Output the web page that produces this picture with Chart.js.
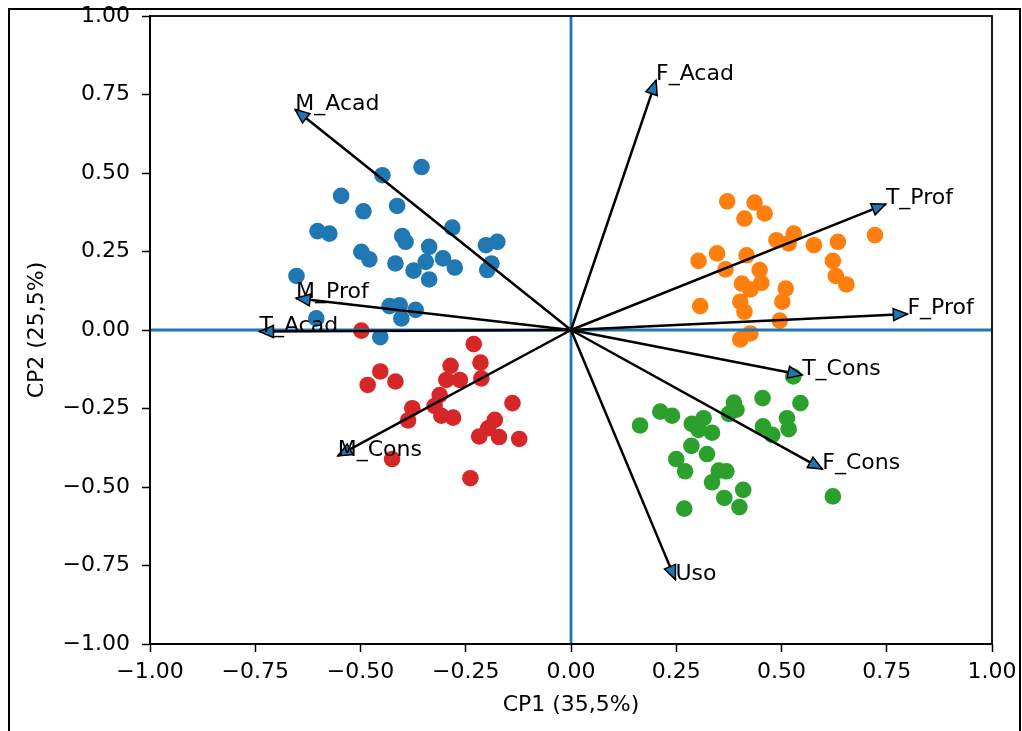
<!DOCTYPE html>
<html>
<head>
<meta charset="utf-8">
<script src="https://cdn.jsdelivr.net/npm/chart.js@4.4.1/dist/chart.umd.min.js"></script>
<style>
  html, body { margin: 0; padding: 0; background: #fff; }
  canvas { display: block; }
</style>
</head>
<body>
<canvas id="biplot" width="1022" height="731"></canvas>
<script>
// Scores of the individuals, one group per colour
const blueX = [-0.355, -0.448, -0.546, -0.493, -0.413, -0.602, -0.574, -0.401, -0.393, -0.282,
  -0.337, -0.202, -0.175, -0.498, -0.479, -0.417, -0.374, -0.345, -0.304, -0.276,
  -0.337, -0.189, -0.199, -0.652, -0.431, -0.407, -0.369, -0.403, -0.605, -0.453];
const blueY = [0.519, 0.493, 0.427, 0.378, 0.395, 0.315, 0.307, 0.299, 0.281, 0.326,
  0.265, 0.270, 0.281, 0.249, 0.225, 0.212, 0.189, 0.217, 0.228, 0.199,
  0.161, 0.212, 0.191, 0.172, 0.076, 0.079, 0.064, 0.037, 0.037, -0.023];

const orangeX = [0.371, 0.436, 0.460, 0.412, 0.488, 0.529, 0.517, 0.577, 0.634, 0.722,
  0.303, 0.347, 0.417, 0.367, 0.448, 0.622, 0.629, 0.654, 0.406, 0.426,
  0.452, 0.510, 0.502, 0.402, 0.412, 0.307, 0.496, 0.426, 0.402];
const orangeY = [0.410, 0.406, 0.371, 0.355, 0.286, 0.307, 0.276, 0.270, 0.281, 0.302,
  0.220, 0.244, 0.238, 0.193, 0.191, 0.220, 0.172, 0.145, 0.148, 0.129,
  0.150, 0.132, 0.090, 0.090, 0.058, 0.076, 0.030, -0.011, -0.030];

const greenX = [0.528, 0.545, 0.455, 0.387, 0.393, 0.375, 0.212, 0.240, 0.164, 0.287,
  0.315, 0.303, 0.335, 0.513, 0.517, 0.456, 0.478, 0.286, 0.323, 0.250,
  0.271, 0.351, 0.369, 0.335, 0.409, 0.364, 0.400, 0.269, 0.622];
const greenY = [-0.148, -0.233, -0.217, -0.231, -0.254, -0.267, -0.260, -0.273, -0.304, -0.299,
  -0.281, -0.318, -0.327, -0.281, -0.316, -0.307, -0.334, -0.369, -0.395, -0.411,
  -0.450, -0.448, -0.450, -0.485, -0.509, -0.535, -0.564, -0.569, -0.530];

const redX = [-0.498, -0.231, -0.286, -0.215, -0.453, -0.483, -0.417, -0.296, -0.264, -0.213,
  -0.312, -0.377, -0.387, -0.324, -0.308, -0.280, -0.139, -0.181, -0.197, -0.218,
  -0.171, -0.123, -0.425, -0.239];
const redY = [-0.002, -0.045, -0.114, -0.104, -0.132, -0.175, -0.164, -0.159, -0.159, -0.154,
  -0.207, -0.249, -0.288, -0.242, -0.273, -0.279, -0.233, -0.286, -0.313, -0.339,
  -0.341, -0.347, -0.411, -0.472];

// Loadings of the variables (arrows)
const varNames = ["M_Acad", "F_Acad", "T_Prof", "F_Prof", "M_Prof", "T_Acad", "T_Cons", "F_Cons", "M_Cons", "Uso"];
const varX = [-0.655, 0.202, 0.748, 0.799, -0.653, -0.740, 0.549, 0.597, -0.554, 0.248];
const varY = [0.702, 0.795, 0.401, 0.051, 0.101, -0.005, -0.143, -0.443, -0.401, -0.795];

const tickValues = [-1, -0.75, -0.5, -0.25, 0, 0.25, 0.5, 0.75, 1];
const xTitle = "CP1 (35,5%)";
const yTitle = "CP2 (25,5%)";

const FONT = "DejaVu Sans";
const BLUE = "#1f77b4";

function pts(xs, ys) {
  return xs.map((x, i) => ({ x: x, y: ys[i] }));
}

function fmtTick(v) {
  return v.toFixed(2).replace("-", "\u2212");
}

const scatterSets = [
  { data: pts(blueX, blueY), color: "#1f77b4" },
  { data: pts(orangeX, orangeY), color: "#ff7f0e" },
  { data: pts(greenX, greenY), color: "#2ca02c" },
  { data: pts(redX, redY), color: "#d62728" }
].map(g => ({
  data: g.data,
  backgroundColor: g.color,
  borderWidth: 0,
  pointRadius: 8.3,
  pointHoverRadius: 8.3,
  order: 3
}));

// horizontal and vertical reference lines through the origin
const zeroLines = [
  [{ x: -1, y: 0 }, { x: 1, y: 0 }],
  [{ x: 0, y: -1 }, { x: 0, y: 1 }]
].map(d => ({
  data: d,
  showLine: true,
  borderColor: BLUE,
  borderWidth: 2.8,
  pointRadius: 0,
  order: 2
}));

const arrowSets = varNames.map((n, i) => ({
  data: [{ x: 0, y: 0 }, { x: varX[i], y: varY[i] }],
  showLine: true,
  borderColor: "#000",
  borderWidth: 2.5,
  pointRadius: 0,
  order: 1
}));

// arrow heads, variable names, axes frame and the outer border
const biplotExtras = {
  id: "biplotExtras",
  afterDatasetsDraw(chart) {
    const ctx = chart.ctx;
    const xs = chart.scales.x, ys = chart.scales.y;
    const ox = xs.getPixelForValue(0), oy = ys.getPixelForValue(0);
    ctx.save();
    varNames.forEach((name, i) => {
      const tx = xs.getPixelForValue(varX[i]);
      const ty = ys.getPixelForValue(varY[i]);
      const len = Math.hypot(tx - ox, ty - oy);
      const ux = (tx - ox) / len, uy = (ty - oy) / len;
      const hl = 14, hw = 6;
      const bx = tx - ux * hl, by = ty - uy * hl;
      ctx.beginPath();
      ctx.moveTo(tx, ty);
      ctx.lineTo(bx - uy * hw, by + ux * hw);
      ctx.lineTo(bx + uy * hw, by - ux * hw);
      ctx.closePath();
      ctx.fillStyle = BLUE;
      ctx.fill();
      ctx.lineWidth = 1.5;
      ctx.strokeStyle = "#000";
      ctx.stroke();

      ctx.fillStyle = "#000";
      ctx.font = "22px '" + FONT + "'";
      ctx.textAlign = "left";
      ctx.textBaseline = "alphabetic";
      ctx.fillText(name, tx, ty);
    });

    const a = chart.chartArea;
    ctx.lineWidth = 1.8;
    ctx.strokeStyle = "#000";
    ctx.strokeRect(a.left, a.top, a.right - a.left, a.bottom - a.top);

    ctx.lineWidth = 2;
    ctx.strokeRect(9, 9, chart.width - 11, chart.height + 20);
    ctx.restore();
  }
};

new Chart(document.getElementById("biplot"), {
  type: "scatter",
  data: { datasets: [...arrowSets, ...zeroLines, ...scatterSets] },
  options: {
    responsive: false,
    animation: false,
    devicePixelRatio: 1,
    layout: { padding: { left: 0, right: 30, top: 16, bottom: 0 } },
    plugins: { legend: { display: false }, tooltip: { enabled: false } },
    scales: {
      x: {
        type: "linear",
        min: -1, max: 1,
        afterBuildTicks: s => { s.ticks = tickValues.map(v => ({ value: v })); },
        afterFit: s => { s.height = 87; s.paddingLeft = 0; s.paddingRight = 0; },
        grid: { drawOnChartArea: false, drawTicks: true, tickLength: 8, tickColor: "#000", tickWidth: 1.5 },
        border: { display: true, color: "#000", width: 1.8 },
        ticks: {
          padding: 7, color: "#000", maxRotation: 0,
          font: { family: FONT, size: 22 },
          callback: v => fmtTick(v)
        },
        title: {
          display: true, text: xTitle, color: "#000",
          font: { family: FONT, size: 22 },
          padding: { top: 0, bottom: 13 }
        }
      },
      y: {
        type: "linear",
        min: -1, max: 1,
        afterBuildTicks: s => { s.ticks = tickValues.map(v => ({ value: v })); },
        afterFit: s => { s.width = 150; s.paddingTop = 0; s.paddingBottom = 0; },
        grid: { drawOnChartArea: false, drawTicks: true, tickLength: 8, tickColor: "#000", tickWidth: 1.5 },
        border: { display: true, color: "#000", width: 1.8 },
        ticks: {
          padding: 12, color: "#000",
          font: { family: FONT, size: 22 },
          callback: v => fmtTick(v)
        },
        title: {
          display: true, text: yTitle, color: "#000",
          font: { family: FONT, size: 22 },
          padding: { top: 24, bottom: 0 }
        }
      }
    }
  },
  plugins: [biplotExtras]
});
</script>
</body>
</html>
